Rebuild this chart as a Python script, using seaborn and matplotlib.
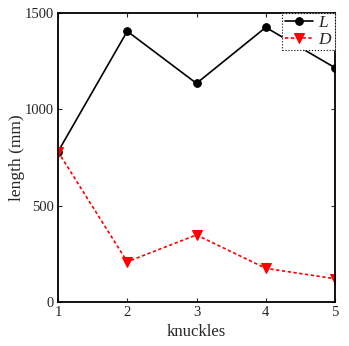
import matplotlib
matplotlib.use("Agg")
import matplotlib.pyplot as plt
import seaborn as sns
import pandas as pd

knuckles = [1, 2, 3, 4, 5]
L_vals = [780, 1404, 1134, 1424, 1215]
D_vals = [780, 210, 349, 176, 122]
x_ticks = [1, 2, 3, 4, 5]
y_ticks = [0, 500, 1000, 1500]

sns.set_style("ticks")
plt.rcParams['font.family'] = ['Liberation Serif', 'DejaVu Serif']
plt.rcParams['mathtext.fontset'] = 'custom'
plt.rcParams['mathtext.it'] = 'Liberation Serif:italic'
plt.rcParams['mathtext.rm'] = 'Liberation Serif'

df = pd.DataFrame({"knuckles": knuckles * 2,
                   "length": L_vals + D_vals,
                   "series": ["L"] * 5 + ["D"] * 5})

fig = plt.figure(figsize=(3.49, 3.46), dpi=100)
ax = fig.add_axes([58/349, 1 - 302.3/346, (335 - 58)/349, (302.3 - 12.7)/346])

sns.lineplot(data=df[df.series == "L"], x="knuckles", y="length", ax=ax,
             color="black", marker="o", markersize=5.5, linewidth=1.2,
             markeredgecolor="black", label=r"$L$")
sns.lineplot(data=df[df.series == "D"], x="knuckles", y="length", ax=ax,
             color="red", marker="v", markersize=6.5, linewidth=1.2,
             linestyle=(0, (2, 1.5)), markeredgecolor="red", label=r"$D$")

ax.set_xlim(1, 5)
ax.set_ylim(0, 1500)
ax.set_xticks(x_ticks)
ax.set_yticks(y_ticks)
ax.set_xlabel("knuckles", fontsize=12, labelpad=3)
ax.set_ylabel("length (mm)", fontsize=12.5, labelpad=0)
ax.tick_params(direction="in", top=True, right=True, labelsize=10.5, length=3,
               width=0.8, pad=3)
for s in ax.spines.values():
    s.set_linewidth(1.3)
    s.set_color("black")

leg = ax.legend(loc="upper right", fontsize=12.5, frameon=True, fancybox=False,
                borderaxespad=0, handlelength=1.6, handletextpad=0.3,
                borderpad=0.15, labelspacing=0.0)
frame = leg.get_frame()
frame.set_edgecolor("black")
frame.set_linestyle(":")
frame.set_linewidth(0.8)
frame.set_alpha(1)

fig.savefig("out.png", dpi=100)
